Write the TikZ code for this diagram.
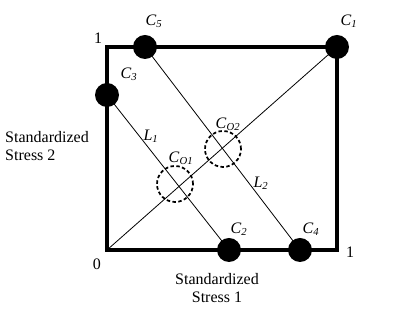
\documentclass[tikz,border=0pt]{standalone}
\usepackage{fontspec}
\setmainfont{Liberation Serif}
\usetikzlibrary{positioning}
\newcommand{\clab}[2]{\textit{#1}\textsubscript{\textit{#2}}}

\begin{document}
\begin{tikzpicture}[
  x=0.75pt, y=-0.75pt,
  frame/.style={line width=2.4pt},
  thin/.style={line width=0.6pt},
  dot/.style={circle, fill=black, inner sep=0pt, minimum size=18pt},
  ring/.style={circle, draw, dashed, line width=1.3pt, inner sep=0pt,
               minimum size=27pt, dash pattern=on 2.6pt off 1.8pt},
  lab/.style={font=\fontsize{12}{14}\selectfont, inner sep=1pt},
]
  \useasboundingbox (0,0) rectangle (408,323);
  % corners of the unit square
  \coordinate (org) at (107,250);
  \coordinate (top) at (337,47);

  % dashed centre points
  \node[ring] (co1) at (175,184) {};
  \node[ring] (co2) at (223,149) {};

  % design points
  \node[dot] (c1) at (337,47) {};
  \node[dot] (c2) at (229,250) {};
  \node[dot] (c3) at (107,95) {};
  \node[dot] (c4) at (300,250) {};
  \node[dot] (c5) at (145,47) {};

  \draw[frame] (org) rectangle (top);
  \draw[thin] (org) -- (c1.center);
  \draw[thin] (c3.center) -- (c2.center);
  \draw[thin] (c5.center) -- (c4.center);

  % labels
  \node[lab] (n1) at (98,38) {1};
  \node[lab] (n0) at (97,264) {0};
  \node[lab] (n1r) at (350,252) {1};
  \node[lab] (l1) at (349,21) {\clab{C}{1}};
  \node[lab] (l5) at (154,21) {\clab{C}{5}};
  \node[lab] (l3) at (129,74) {\clab{C}{3}};
  \node[lab] (l2) at (239,229) {\clab{C}{2}};
  \node[lab] (l4) at (311,229) {\clab{C}{4}};
  \node[lab] (lco2) at (228,124) {\clab{C}{O2}};
  \node[lab] (lco1) at (181,158) {\clab{C}{O1}};
  \node[lab] (ll1) at (151,136) {\clab{L}{1}};
  \node[lab] (ll2) at (261,183) {\clab{L}{2}};
  \node[lab, align=center] (ax1) at (217,288) {Standardized\\Stress 1};
  \node[lab, align=left] (ax2) at (47,146) {Standardized\\Stress 2};
\end{tikzpicture}
\end{document}
